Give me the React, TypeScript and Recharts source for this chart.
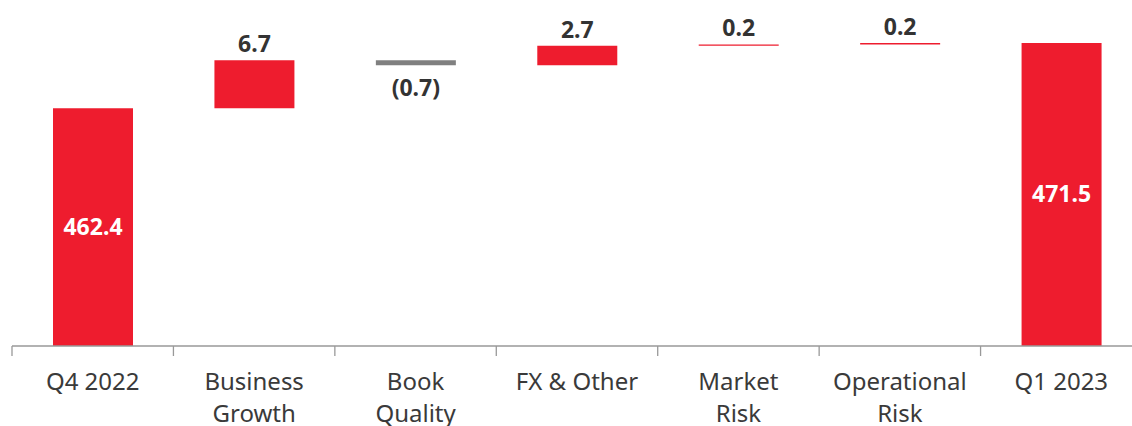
import { BarChart, Bar, XAxis, YAxis, Cell, LabelList } from "recharts";

const categories = ["Q4 2022", "Business Growth", "Book Quality", "FX & Other", "Market Risk", "Operational Risk", "Q1 2023"];
const tickLines = [["Q4 2022"], ["Business", "Growth"], ["Book", "Quality"], ["FX & Other"], ["Market", "Risk"], ["Operational", "Risk"], ["Q1 2023"]];
const values = [462.4, 6.7, -0.7, 2.7, 0.2, 0.2, 471.5];
const valueLabels = ["462.4", "6.7", "(0.7)", "2.7", "0.2", "0.2", "471.5"];
const isTotal = [true, false, false, false, false, false, true];

const Y_MIN = 429.2;
const Y_MAX = 477.5;
const RED = "#ee1c2e";
const GREY = "#808080";

// build the floating ranges from running totals
let running = 0;
const data = categories.map((name, i) => {
  let range: [number, number];
  if (isTotal[i]) {
    running = values[i];
    range = [Y_MIN, values[i]];
  } else {
    const start = running;
    running = running + values[i];
    range = [Math.min(start, running), Math.max(start, running)];
  }
  return { name, range, value: values[i], label: valueLabels[i], total: isTotal[i], idx: i };
});

const Tick = (props: any) => {
  const { x, y, payload } = props;
  const lines = tickLines[payload.index] || [payload.value];
  const off = payload.offset || 0;
  return (
    <g>
      <line x1={x - off} x2={x - off} y1={y - 8} y2={y + 2} stroke="#999" strokeWidth={1.3} />
      <text x={x} y={y + 36} textAnchor="middle" fontSize={24} fill="#3a3a3a" fontFamily="'Noto Sans', sans-serif">
        {lines.map((l: string, k: number) => (
          <tspan key={k} x={x} dy={k === 0 ? 0 : 32}>{l}</tspan>
        ))}
      </text>
    </g>
  );
};

const ValueLabel = (props: any) => {
  const { x, y, width, height, index } = props;
  const d = data[index];
  const cx = x + width / 2;
  if (d.total) {
    return (
      <text x={cx} y={y + height / 2} dy={8} textAnchor="middle" fontSize={23} fontWeight={700} fill="#fff" fontFamily="'Noto Sans', sans-serif">
        {d.label}
      </text>
    );
  }
  const top = Math.min(y, y + height);
  const bottom = Math.max(y, y + height);
  const ty = d.value >= 0 ? top - 8 : bottom + 31;
  return (
    <text x={cx} y={ty} textAnchor="middle" fontSize={23} fontWeight={700} fill="#333" fontFamily="'Noto Sans', sans-serif">
      {d.label}
    </text>
  );
};

export default function App() {
  return (
    <div style={{ position: "absolute", left: 0, top: 0, width: 1132, height: 426, overflow: "hidden", background: "#fff" }}>
      <BarChart width={1150} height={426} data={data} margin={{ top: 0, right: 8, left: 12, bottom: 0 }} barSize={80}>
        <XAxis
          dataKey="name"
          interval={0}
          height={80}
          axisLine={{ stroke: "#999", strokeWidth: 1.3 }}
          tickLine={false}
          tick={<Tick />}
        />
        <YAxis hide domain={[Y_MIN, Y_MAX]} allowDataOverflow />
        <Bar dataKey="range" isAnimationActive={false}>
          {data.map((d, i) => (
            <Cell key={i} fill={d.value < 0 ? GREY : RED} />
          ))}
          <LabelList dataKey="label" content={<ValueLabel />} />
        </Bar>
      </BarChart>
    </div>
  );
}
